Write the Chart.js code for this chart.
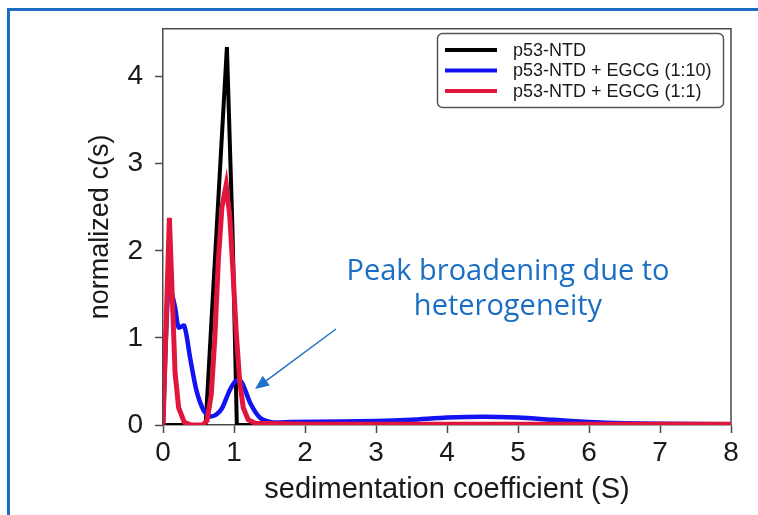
<!DOCTYPE html>
<html>
<head>
<meta charset="utf-8">
<script src="https://cdn.jsdelivr.net/npm/chart.js@4.4.0/dist/chart.umd.min.js"></script>
<style>
  html, body { margin: 0; padding: 0; background: #fff; }
</style>
</head>
<body>
<canvas id="csChart" width="758" height="515"></canvas>
<script>
// sedimentation coefficient (S) and normalized c(s)
const ntdS = [0, 0.3, 0.6, 0.75, 0.9, 0.98, 1.04, 1.2, 2, 4, 6, 8];
const ntdC = [0, 0, 0, 2.17, 4.34, 2.2, 0, 0, 0, 0, 0, 0];

const egcg10S = [0, 0.08, 0.17, 0.22, 0.3, 0.38, 0.47, 0.57, 0.66, 0.75, 0.83, 0.94, 1.03, 1.11, 1.23, 1.37, 1.55, 1.8, 2.5, 3.0, 3.5, 4.0, 4.5, 5.0, 5.5, 6.0, 6.5, 7.0, 8.0];
const egcg10C = [0, 1.62, 1.35, 1.12, 1.14, 0.78, 0.4, 0.17, 0.1, 0.12, 0.19, 0.4, 0.51, 0.49, 0.25, 0.08, 0.03, 0.035, 0.04, 0.045, 0.06, 0.085, 0.095, 0.085, 0.06, 0.035, 0.02, 0.015, 0.01];

const egcg1S = [0, 0.09, 0.17, 0.22, 0.3, 0.4, 0.56, 0.62, 0.68, 0.73, 0.78, 0.83, 0.89, 0.94, 0.98, 1.03, 1.08, 1.13, 1.2, 1.3, 2, 4, 6, 8];
const egcg1C = [0, 2.38, 0.6, 0.2, 0.03, 0, 0, 0.05, 0.35, 1.0, 1.9, 2.5, 2.76, 2.4, 1.85, 1.08, 0.5, 0.2, 0.06, 0.02, 0.01, 0.01, 0.01, 0.01];

const seriesLabels = ['p53-NTD', 'p53-NTD + EGCG (1:10)', 'p53-NTD + EGCG (1:1)'];
const seriesColors = ['#000000', '#1212f2', '#e0163d'];

const xTickValues = [0, 1, 2, 3, 4, 5, 6, 7, 8];
const yTickValues = [0, 1, 2, 3, 4];

const noteLines = ['Peak broadening due to', 'heterogeneity'];

Chart.defaults.font.family = '"Liberation Sans", Arial, sans-serif';
Chart.defaults.color = '#1a1a1a';

const toPoints = (xs, ys) => xs.map((x, i) => ({ x: x, y: ys[i] }));

const axisColor = '#4a4a4a';

// outer blue frame (top + left only, cut off by the image edge)
const framePlugin = {
    id: 'frame',
    beforeDraw(chart) {
        const ctx = chart.ctx;
        ctx.save();
        ctx.strokeStyle = '#1c6cc4';
        ctx.lineWidth = 3;
        ctx.beginPath();
        ctx.moveTo(8.5, 515);
        ctx.lineTo(8.5, 9.5);
        ctx.lineTo(758, 9.5);
        ctx.stroke();
        ctx.restore();
    },
    beforeDatasetsDraw(chart) {
        // top and right sides of the axes box
        const { ctx, chartArea: a } = chart;
        ctx.save();
        ctx.strokeStyle = axisColor;
        ctx.lineWidth = 1.5;
        ctx.beginPath();
        ctx.moveTo(a.left, a.top);
        ctx.lineTo(a.right, a.top);
        ctx.lineTo(a.right, a.bottom);
        ctx.stroke();
        ctx.restore();
    },
    afterDatasetsDraw(chart) {
        const ctx = chart.ctx;
        ctx.save();

        // legend box
        ctx.beginPath();
        ctx.roundRect(437.5, 33.5, 286, 74, 5);
        ctx.fillStyle = '#fff';
        ctx.fill();
        ctx.strokeStyle = '#555';
        ctx.lineWidth = 1.5;
        ctx.stroke();

        ctx.font = '18px "Liberation Sans", Arial, sans-serif';
        ctx.textBaseline = 'middle';
        ctx.textAlign = 'left';
        chart.data.datasets.forEach((ds, i) => {
            const y = 50 + i * 20.5;
            ctx.strokeStyle = ds.borderColor;
            ctx.lineWidth = 4;
            ctx.beginPath();
            ctx.moveTo(445, y);
            ctx.lineTo(497, y);
            ctx.stroke();
            ctx.fillStyle = '#1a1a1a';
            ctx.fillText(ds.label, 513, y + 1);
        });

        // annotation
        ctx.fillStyle = '#1a6fc4';
        ctx.font = '29px "Open Sans", sans-serif';
        ctx.textAlign = 'center';
        ctx.textBaseline = 'alphabetic';
        ctx.fillText(noteLines[0], 508, 280);
        ctx.fillText(noteLines[1], 508, 315);

        // arrow
        const x0 = 336, y0 = 329, x1 = 255, y1 = 389;
        const ang = Math.atan2(y1 - y0, x1 - x0);
        ctx.strokeStyle = '#1f72c6';
        ctx.lineWidth = 1.5;
        ctx.beginPath();
        ctx.moveTo(x0, y0);
        ctx.lineTo(x1 - 10 * Math.cos(ang), y1 - 10 * Math.sin(ang));
        ctx.stroke();
        ctx.fillStyle = '#1f72c6';
        ctx.beginPath();
        ctx.moveTo(x1, y1);
        ctx.lineTo(x1 - 14 * Math.cos(ang) + 6 * Math.sin(ang), y1 - 14 * Math.sin(ang) - 6 * Math.cos(ang));
        ctx.lineTo(x1 - 14 * Math.cos(ang) - 6 * Math.sin(ang), y1 - 14 * Math.sin(ang) + 6 * Math.cos(ang));
        ctx.closePath();
        ctx.fill();

        ctx.restore();
    }
};

const ctx = document.getElementById('csChart');

new Chart(ctx, {
    type: 'line',
    data: {
        datasets: [
            {
                label: seriesLabels[0],
                data: toPoints(ntdS, ntdC),
                borderColor: seriesColors[0],
                borderWidth: 4,
                tension: 0,
                order: 2
            },
            {
                label: seriesLabels[1],
                data: toPoints(egcg10S, egcg10C),
                borderColor: seriesColors[1],
                borderWidth: 4.5,
                tension: 0.25,
                order: 1
            },
            {
                label: seriesLabels[2],
                data: toPoints(egcg1S, egcg1C),
                borderColor: seriesColors[2],
                borderWidth: 5,
                tension: 0,
                order: 0
            }
        ]
    },
    options: {
        responsive: false,
        animation: false,
        devicePixelRatio: 1,
        layout: { padding: { top: 27, right: 27, left: 0, bottom: 0 } },
        elements: { point: { radius: 0 } },
        plugins: {
            legend: { display: false },
            tooltip: { enabled: false }
        },
        scales: {
            x: {
                type: 'linear',
                min: 0,
                max: 8,
                afterBuildTicks: (scale) => { scale.ticks = xTickValues.map(v => ({ value: v })); },
                afterFit: (scale) => { scale.height = 90; },
                ticks: { font: { size: 28 }, padding: 3, maxRotation: 0, autoSkip: false },
                grid: { drawOnChartArea: false, tickLength: 8, tickColor: axisColor, tickWidth: 1.5 },
                border: { color: axisColor, width: 1.5 },
                title: {
                    display: true,
                    text: 'sedimentation coefficient (S)',
                    font: { size: 29 },
                    padding: { top: 0, bottom: 8 }
                }
            },
            y: {
                type: 'linear',
                min: 0,
                max: 4.55,
                afterBuildTicks: (scale) => { scale.ticks = yTickValues.map(v => ({ value: v })); },
                afterFit: (scale) => { scale.width = 163; },
                ticks: { font: { size: 28 }, padding: 12 },
                grid: { drawOnChartArea: false, tickLength: 8, tickColor: axisColor, tickWidth: 1.5 },
                border: { color: axisColor, width: 1.5 },
                title: {
                    display: true,
                    text: 'normalized c(s)',
                    font: { size: 27 },
                    padding: { top: 84, bottom: 0 }
                }
            }
        }
    },
    plugins: [framePlugin]
});
</script>
</body>
</html>
